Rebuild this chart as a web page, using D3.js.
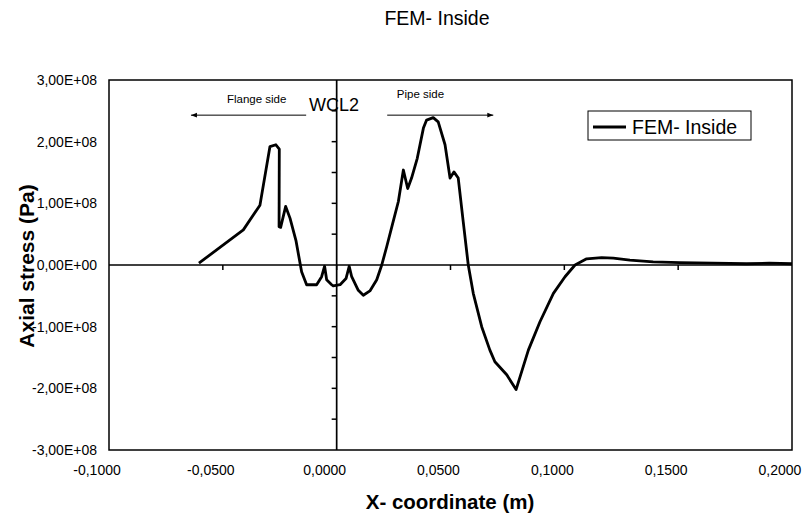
<!DOCTYPE html>
<html>
<head>
<meta charset="utf-8">
<script src="https://cdn.jsdelivr.net/npm/d3@7"></script>
<style>
  body { margin: 0; background: #fff; }
  text { font-family: "Liberation Sans", Arial, sans-serif; fill: #000; }
</style>
</head>
<body>
<div id="canvas"></div>
<script>
// x-coordinate (m) and axial stress (Pa) of the FEM inside path
const xCoord = [-0.0605, -0.041, -0.0337, -0.0293, -0.0267, -0.0252, -0.0253, -0.0246, -0.0224, -0.0205,
  -0.0179, -0.0154, -0.0132, -0.0088, -0.0066, -0.0053, -0.0044, -0.0022, -0.0015, 0.0015,
  0.0041, 0.0055, 0.0066, 0.0095, 0.0117, 0.0146, 0.0176, 0.0198, 0.022, 0.0245,
  0.0271, 0.0293, 0.0312, 0.0329, 0.0354, 0.0381, 0.0395, 0.0424, 0.0446, 0.0476,
  0.0498, 0.0515, 0.0534, 0.0556, 0.0578, 0.060, 0.0637, 0.0673, 0.0695, 0.0747,
  0.0788, 0.0842, 0.0893, 0.0952, 0.1003, 0.1047, 0.1098, 0.1164, 0.1215, 0.1288,
  0.139, 0.1508, 0.1653, 0.18, 0.19, 0.2];
const stress = [0.03e8, 0.57e8, 0.97e8, 1.92e8, 1.95e8, 1.88e8, 0.62e8, 0.61e8, 0.95e8, 0.76e8,
  0.40e8, -0.11e8, -0.32e8, -0.32e8, -0.19e8, -0.02e8, -0.24e8, -0.32e8, -0.34e8, -0.32e8,
  -0.22e8, -0.02e8, -0.19e8, -0.41e8, -0.49e8, -0.42e8, -0.24e8, 0.0, 0.30e8, 0.66e8,
  1.03e8, 1.54e8, 1.24e8, 1.41e8, 1.73e8, 2.22e8, 2.35e8, 2.39e8, 2.32e8, 1.95e8,
  1.41e8, 1.51e8, 1.41e8, 0.70e8, 0.0, -0.46e8, -1.0e8, -1.38e8, -1.57e8, -1.78e8,
  -2.02e8, -1.38e8, -0.92e8, -0.46e8, -0.19e8, 0.0, 0.10e8, 0.12e8, 0.11e8, 0.08e8,
  0.05e8, 0.04e8, 0.03e8, 0.02e8, 0.03e8, 0.02e8];

const xTicks = [-0.1, -0.05, 0, 0.05, 0.1, 0.15, 0.2];
const yTicks = [-3e8, -2e8, -1e8, 0, 1e8, 2e8, 3e8];
const yMinorTicks = d3.range(-3e8, 3.01e8, 0.5e8);

const title = "FEM- Inside";
const seriesName = "FEM- Inside";
const xTitle = "X- coordinate (m)";
const yTitle = "Axial stress (Pa)";

const width = 803;
const height = 517;
const margin = { top: 80, left: 109, bottom: 67, right: 11 };
const iwidth = width - margin.left - margin.right;
const iheight = height - margin.top - margin.bottom;

const svg = d3.select("#canvas").append("svg")
  .attr("width", width)
  .attr("height", height);

const g = svg.append("g").attr("transform", `translate(${margin.left},${margin.top})`);

const x = d3.scaleLinear().domain([-0.1, 0.2]).range([0, iwidth]);
const y = d3.scaleLinear().domain([-3e8, 3e8]).range([iheight, 0]);

const fmtX = v => d3.format(".4f")(v).replace(".", ",").replace("−", "-");
const fmtY = v => {
  if (v === 0) return "0,00E+00";
  const e = Math.floor(Math.log10(Math.abs(v)));
  const m = v / Math.pow(10, e);
  return m.toFixed(2).replace(".", ",") + "E" + (e >= 0 ? "+" : "-") + String(Math.abs(e)).padStart(2, "0");
};

// plot area frame
g.append("rect")
  .attr("width", iwidth).attr("height", iheight)
  .attr("fill", "none").attr("stroke", "#000").attr("stroke-width", 1.5);

// axes crossing at zero, labels at low position
g.append("line")
  .attr("x1", 0).attr("x2", iwidth).attr("y1", y(0)).attr("y2", y(0))
  .attr("stroke", "#000").attr("stroke-width", 1.7);
g.append("line")
  .attr("x1", x(0)).attr("x2", x(0)).attr("y1", 0).attr("y2", iheight)
  .attr("stroke", "#000").attr("stroke-width", 1.7);

g.selectAll(".xtick").data(xTicks.slice(1, -1)).enter().append("line")
  .attr("x1", d => x(d)).attr("x2", d => x(d))
  .attr("y1", y(0)).attr("y2", y(0) + 5)
  .attr("stroke", "#000").attr("stroke-width", 1.5);

g.selectAll(".ytick").data(yMinorTicks.filter(d => d !== 0 && Math.abs(d) < 3e8)).enter().append("line")
  .attr("x1", x(0) - 5).attr("x2", x(0))
  .attr("y1", d => y(d)).attr("y2", d => y(d))
  .attr("stroke", "#000").attr("stroke-width", 1.5);

g.selectAll(".xlab").data(xTicks).enter().append("text")
  .attr("x", d => x(d) - 12)
  .attr("y", iheight + 25)
  .attr("text-anchor", "middle")
  .style("font-size", "14px")
  .text(fmtX);

g.selectAll(".ylab").data(yTicks).enter().append("text")
  .attr("x", -12)
  .attr("y", d => y(d))
  .attr("dy", "0.35em")
  .attr("text-anchor", "end")
  .style("font-size", "14px")
  .text(fmtY);

// data line
const line = d3.line()
  .x(d => x(d[0]))
  .y(d => y(d[1]));

g.append("path")
  .datum(d3.zip(xCoord, stress))
  .attr("d", line)
  .attr("fill", "none")
  .attr("stroke", "#000")
  .attr("stroke-width", 2.8)
  .attr("stroke-linejoin", "round");

// annotations
svg.append("defs").append("marker")
  .attr("id", "arr")
  .attr("viewBox", "0 0 10 10")
  .attr("refX", 10).attr("refY", 5)
  .attr("markerWidth", 6).attr("markerHeight", 6)
  .attr("orient", "auto")
  .append("path").attr("d", "M0,1 L10,5 L0,9 Z").attr("fill", "#000");

g.append("line")
  .attr("x1", x(-0.0134)).attr("x2", x(-0.0640))
  .attr("y1", y(2.43e8)).attr("y2", y(2.43e8))
  .attr("stroke", "#000").attr("stroke-width", 1)
  .attr("marker-end", "url(#arr)");
g.append("text")
  .attr("x", x(-0.0482)).attr("y", y(2.63e8))
  .style("font-size", "11.5px")
  .text("Flange side");

g.append("line")
  .attr("x1", x(0.0222)).attr("x2", x(0.0688))
  .attr("y1", y(2.43e8)).attr("y2", y(2.43e8))
  .attr("stroke", "#000").attr("stroke-width", 1)
  .attr("marker-end", "url(#arr)");
g.append("text")
  .attr("x", x(0.0264)).attr("y", y(2.71e8))
  .style("font-size", "11.5px")
  .text("Pipe side");

g.append("text")
  .attr("x", x(-0.0121)).attr("y", y(2.50e8))
  .style("font-size", "18px")
  .text("WCL2");

// legend
const legend = svg.append("g").attr("transform", "translate(588,111)");
legend.append("rect")
  .attr("width", 163).attr("height", 29)
  .attr("fill", "#fff").attr("stroke", "#000").attr("stroke-width", 1);
legend.append("line")
  .attr("x1", 5).attr("x2", 38).attr("y1", 16).attr("y2", 16)
  .attr("stroke", "#000").attr("stroke-width", 2.8);
legend.append("text")
  .attr("x", 44).attr("y", 23)
  .style("font-size", "19.5px")
  .text(seriesName);

// titles
svg.append("text")
  .attr("x", 437).attr("y", 25)
  .attr("text-anchor", "middle")
  .style("font-size", "19.5px")
  .text(title);

svg.append("text")
  .attr("x", 450).attr("y", 509)
  .attr("text-anchor", "middle")
  .style("font-size", "20.5px").style("font-weight", "bold")
  .text(xTitle);

svg.append("text")
  .attr("transform", "translate(34,266) rotate(-90)")
  .attr("text-anchor", "middle")
  .style("font-size", "21px").style("font-weight", "bold")
  .text(yTitle);
</script>
</body>
</html>
